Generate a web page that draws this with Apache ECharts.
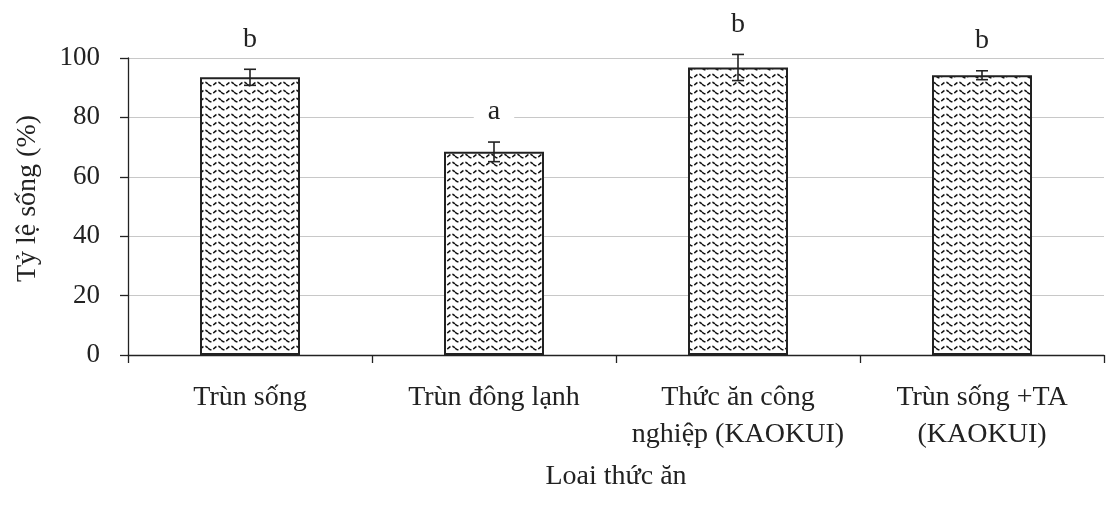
<!DOCTYPE html>
<html><head><meta charset="utf-8">
<script src="https://cdn.jsdelivr.net/npm/echarts@6/dist/echarts.min.js"></script>
<style>html,body{margin:0;padding:0;background:#fff}#c{width:1106px;height:507px}</style>
</head><body><div id="c"></div>
<script>
const categories = ['Trùn sống', 'Trùn đông lạnh', 'Thức ăn công\nnghiệp (KAOKUI)', 'Trùn sống +TA\n(KAOKUI)'];
const values = [93.5, 68.4, 96.8, 94.2];
const errors = [2.7, 3.3, 4.4, 1.5];
const letters = ['b', 'a', 'b', 'b'];
const yTicks = [0, 20, 40, 60, 80, 100];

// wavy dashed pattern tile
const tile = document.createElement('canvas');
tile.width = 13; tile.height = 8;
const ctx = tile.getContext('2d');
ctx.fillStyle = '#fff'; ctx.fillRect(0, 0, 13, 8);
ctx.strokeStyle = '#111'; ctx.lineWidth = 1.6;
ctx.setLineDash([4, 2]);
ctx.beginPath();
for (let x = 0; x <= 13; x += 0.5) {
  const y = 4 + 1.8 * Math.sin(x / 13 * Math.PI * 2);
  if (x === 0) ctx.moveTo(x, y); else ctx.lineTo(x, y);
}
ctx.stroke();

const font = 'Liberation Serif, Times New Roman, serif';
const errData = values.map((v, i) => [i, v - errors[i], v + errors[i], letters[i]]);

const chart = echarts.init(document.getElementById('c'));
chart.setOption({
  animation: false,
  grid: { left: 128, right: 2, top: 58, bottom: 152 },
  xAxis: {
    type: 'category', data: categories,
    name: 'Loai thức ăn', nameLocation: 'middle', nameGap: 108,
    nameTextStyle: { fontFamily: font, fontSize: 28, color: '#222' },
    axisLine: { lineStyle: { color: '#222', width: 1.3 } },
    axisTick: { show: true, length: 8, lineStyle: { color: '#222', width: 1.3 } },
    axisLabel: { fontFamily: font, fontSize: 28, color: '#222', margin: 24, lineHeight: 37, interval: 0 }
  },
  yAxis: {
    type: 'value', min: 0, max: 100, interval: 20,
    name: 'Tỷ lệ sống (%)', nameLocation: 'middle', nameGap: 86, nameRotate: 90,
    nameTextStyle: { fontFamily: font, fontSize: 28, color: '#222', padding: [0, 0, 0, 16] },
    axisLine: { show: true, lineStyle: { color: '#222', width: 1.3 } },
    axisTick: { show: true, length: 8, lineStyle: { color: '#222', width: 1.3 } },
    axisLabel: { fontFamily: font, fontSize: 27, color: '#222', margin: 28,
      formatter: v => yTicks.includes(v) ? String(v) : '' },
    splitLine: { lineStyle: { color: '#c8c8c8', width: 1 } }
  },
  series: [
    {
      type: 'bar', data: values, barWidth: 100,
      itemStyle: { color: { image: tile, repeat: 'repeat' }, borderColor: '#222', borderWidth: 2 }
    },
    {
      type: 'custom', data: errData, clip: false, z: 10,
      renderItem: function (params, api) {
        const x = api.value(0);
        const lo = api.coord([x, api.value(1)]);
        const hi = api.coord([x, api.value(2)]);
        const cap = 6;
        const st = { stroke: '#222', lineWidth: 1.6 };
        return {
          type: 'group',
          children: [
            { type: 'line', shape: { x1: hi[0], y1: hi[1], x2: lo[0], y2: lo[1] }, style: st },
            { type: 'line', shape: { x1: hi[0] - cap, y1: hi[1], x2: hi[0] + cap, y2: hi[1] }, style: st },
            { type: 'line', shape: { x1: lo[0] - cap, y1: lo[1], x2: lo[0] + cap, y2: lo[1] }, style: st },
            { type: 'text', x: hi[0], y: hi[1] - 30,
              style: { text: api.value(3), fill: '#222', font: '28px ' + font,
                align: 'center', verticalAlign: 'middle',
                backgroundColor: '#fff', padding: [2, 14] } }
          ]
        };
      }
    }
  ]
});
</script></body></html>
